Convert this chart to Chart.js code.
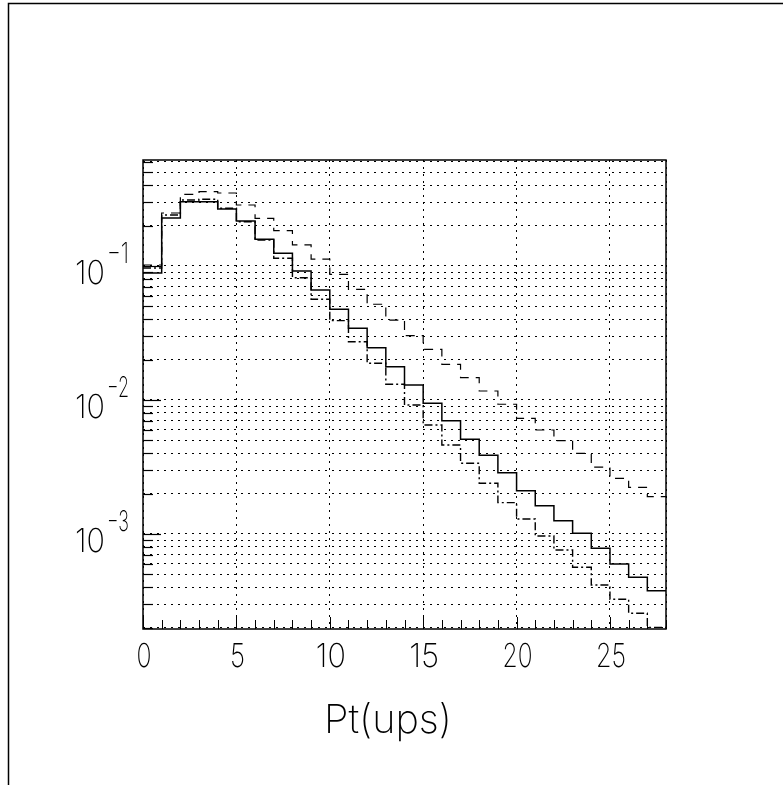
<!DOCTYPE html>
<html lang="en">
<head>
<meta charset="UTF-8">
<script src="https://cdn.jsdelivr.net/npm/chart.js"></script>
<style>
  html, body { margin: 0; padding: 0; background: #fff; }
  .chart-container { position: relative; width: 783px; height: 785px; }
</style>
</head>
<body>
<div class="chart-container">
  <canvas id="ptChart" width="783" height="785"></canvas>
</div>
<script>
// bin edges (Pt, 1 unit wide bins from 0 to 28)
const binEdges = [0,1,2,3,4,5,6,7,8,9,10,11,12,13,14,15,16,17,18,19,20,21,22,23,24,25,26,27,28];

// histogram contents (one value per bin)
const solidVals = [0.0887, 0.228, 0.302, 0.302, 0.266, 0.217, 0.158, 0.1244, 0.0918, 0.0662,
  0.0475, 0.0343, 0.02457, 0.01772, 0.01294, 0.00945, 0.00701, 0.00509, 0.00387, 0.00287,
  0.002103, 0.001627, 0.001257, 0.001012, 0.000782, 0.000597, 0.000475, 0.000377];
const dashedVals = [0.1017, 0.2486, 0.3428, 0.3584, 0.3505, 0.2852, 0.227, 0.1834, 0.1435, 0.1127,
  0.0867, 0.067, 0.0518, 0.0395, 0.0302, 0.0239, 0.01847, 0.01467, 0.01167, 0.00929,
  0.0073, 0.00597, 0.00497, 0.004, 0.00315, 0.0026, 0.00223, 0.0019];
const dashDotVals = [0.0966, 0.240, 0.311, 0.315, 0.2695, 0.214, 0.1563, 0.1142, 0.0818, 0.0564,
  0.0391, 0.0272, 0.01878, 0.0131, 0.00918, 0.00651, 0.00461, 0.00337, 0.00239, 0.001713,
  0.001294, 0.000966, 0.00076, 0.000564, 0.000416, 0.000326, 0.000256, 0.000201];

const xTickLabels = [0, 5, 10, 15, 20, 25];
const yDecades = [1e-1, 1e-2, 1e-3];
const yDecadeExps = ['\u22121', '\u22122', '\u22123'];
const xTitle = 'Pt(ups)';

// histogram -> stepped points (left edges + closing right edge)
function histPoints(vals) {
  return binEdges.map((x, i) => ({ x: x, y: vals[Math.min(i, vals.length - 1)] }));
}

// log grid: 1..9 x 10^n inside the range
function logGridValues(min, max) {
  const out = [];
  for (let e = -5; e <= 1; e++) {
    for (let m = 1; m <= 9; m++) {
      const v = m * Math.pow(10, e);
      if (v >= min && v <= max) out.push(v);
    }
  }
  return out;
}

const FONT = '200 {s}px Inter, "Liberation Sans", sans-serif';

// thin text squeezed to a given width (PAW stroke font look)
function thinText(ctx, txt, x, y, size, width, align) {
  ctx.save();
  ctx.font = FONT.replace('{s}', size);
  ctx.textAlign = align;
  ctx.textBaseline = 'alphabetic';
  const sx = width / ctx.measureText(txt).width;
  ctx.translate(x, y);
  ctx.scale(sx, 1);
  ctx.fillText(txt, 0, 0);
  ctx.restore();
}

// axes box, inward ticks, labels, page frame
const pawFrame = {
  id: 'pawFrame',
  afterDraw(chart) {
    const ctx = chart.ctx;
    const a = chart.chartArea;
    const xs = chart.scales.x;
    const ys = chart.scales.y;
    ctx.save();
    ctx.strokeStyle = '#000';
    ctx.fillStyle = '#000';

    // page frame
    ctx.lineWidth = 1.5;
    ctx.beginPath();
    ctx.moveTo(8.5, 800);
    ctx.lineTo(8.5, 3.5);
    ctx.lineTo(800, 3.5);
    ctx.stroke();

    // axes box
    ctx.lineWidth = 1.5;
    ctx.strokeRect(a.left, a.top, a.right - a.left, a.bottom - a.top);

    // x ticks at every bin edge
    ctx.lineWidth = 1;
    binEdges.forEach(v => {
      const px = Math.round(xs.getPixelForValue(v)) + 0.5;
      const len = (v % 5 === 0) ? 12 : 9;
      ctx.beginPath();
      ctx.moveTo(px, a.bottom);
      ctx.lineTo(px, a.bottom - len);
      ctx.stroke();
    });

    // y ticks, longer at the decades
    ys.ticks.forEach(t => {
      const py = Math.round(ys.getPixelForValue(t.value)) + 0.5;
      const isDecade = yDecades.some(d => Math.abs(d - t.value) / d < 1e-6);
      ctx.lineWidth = 1.2;
      ctx.beginPath();
      ctx.moveTo(a.left, py);
      ctx.lineTo(a.left + (isDecade ? 18 : 10), py);
      ctx.stroke();
    });

    // x tick labels
    xTickLabels.forEach(v => {
      const s = String(v);
      thinText(ctx, s, xs.getPixelForValue(v) + 1, 667, 33, 15 * s.length, 'center');
    });

    // y decade labels 10^n
    yDecades.forEach((d, i) => {
      const py = ys.getPixelForValue(d);
      thinText(ctx, '10', 105, py + 18, 33, 30, 'right');
      thinText(ctx, yDecadeExps[i], 107, py - 3, 28, 22, 'left');
    });

    // x title
    thinText(ctx, xTitle, 388, 733, 40, 128, 'center');
    ctx.restore();
  }
};

const yMin = 1.954e-4;
const yMax = 0.618;

new Chart(document.getElementById('ptChart').getContext('2d'), {
  type: 'line',
  data: {
    datasets: [
      { data: histPoints(solidVals), borderColor: '#000', borderWidth: 1.5, stepped: true, pointRadius: 0, fill: false },
      { data: histPoints(dashedVals), borderColor: '#000', borderWidth: 1.2, borderDash: [9, 7], stepped: true, pointRadius: 0, fill: false },
      { data: histPoints(dashDotVals), borderColor: '#000', borderWidth: 1.4, borderDash: [8, 3, 2, 3], stepped: true, pointRadius: 0, fill: false }
    ]
  },
  options: {
    responsive: false,
    animation: false,
    events: [],
    layout: { padding: { left: 143, right: 117, top: 160, bottom: 156 } },
    plugins: { legend: { display: false }, tooltip: { enabled: false } },
    scales: {
      x: {
        type: 'linear', min: 0, max: 28,
        ticks: { display: false, stepSize: 5 },
        grid: { color: '#000', lineWidth: 1, drawTicks: false },
        border: { display: false, dash: [2, 5] }
      },
      y: {
        type: 'logarithmic', min: yMin, max: yMax,
        ticks: { display: false },
        afterBuildTicks: (scale) => {
          scale.ticks = logGridValues(yMin, yMax).map(v => ({ value: v }));
        },
        grid: { color: '#000', lineWidth: 1, drawTicks: false },
        border: { display: false, dash: [2, 5] }
      }
    }
  },
  plugins: [pawFrame]
});
</script>
</body>
</html>
